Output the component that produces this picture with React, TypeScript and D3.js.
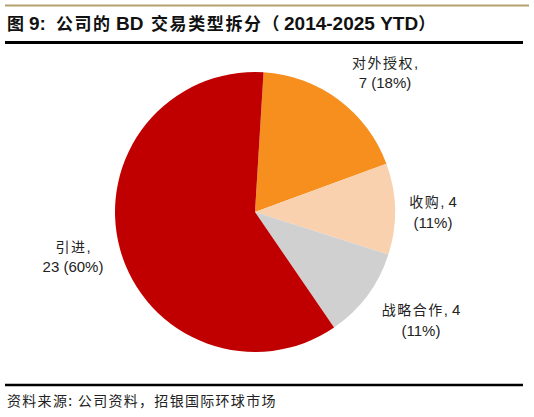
import React from 'react';
import * as d3 from 'd3';

const categories = ['对外授权', '收购', '战略合作', '引进'];
const counts = [7, 4, 4, 23];
const percents = [18, 11, 11, 60];
const colors = ['#F78F1E', '#F9D1AF', '#D0D0D0', '#C00000'];

const W = 534;
const H = 417;
const cx = 255;
const cy = 212;
const radius = 140;

// label positions (centre of text block), kept apart from the data
const labelPos: Record<string, [number, number]> = {
  对外授权: [385, 68],
  收购: [433, 207],
  战略合作: [421, 315],
  引进: [73, 252],
};

const cjk = '"Noto Sans CJK SC", sans-serif';
const latin = 'Arial, "Liberation Sans", sans-serif';

const App: React.FC = () => {
  const data = categories.map((name, i) => ({ name, value: counts[i], pct: percents[i], color: colors[i] }));
  const start = (3.5 * Math.PI) / 180;
  const pie = d3
    .pie<(typeof data)[0]>()
    .sort(null)
    .value(d => d.value)
    .startAngle(start)
    .endAngle(start + 2 * Math.PI);
  const arc = d3.arc<d3.PieArcDatum<(typeof data)[0]>>().innerRadius(0).outerRadius(radius);
  const arcs = pie(data);

  return (
    <svg width={W} height={H} style={{ position: 'absolute', left: 0, top: 0, background: '#fff' }}>
      <line x1={5} x2={529} y1={5.5} y2={5.5} stroke="#B3A26E" strokeWidth={1.8} />
      <text y={30} fontFamily={latin} fontWeight="bold" fontSize={19} fill="#111">
        <tspan x={7} fontFamily={cjk} fontSize={17}>图</tspan>
        <tspan x={29}>9:</tspan>
        <tspan x={56} fontFamily={cjk} fontSize={17} letterSpacing={1.5}>公司的</tspan>
        <tspan x={116}>BD</tspan>
        <tspan x={151} fontFamily={cjk} fontSize={17} letterSpacing={1.6}>交易类型拆分（</tspan>
        <tspan x={284}>2014-2025 YTD</tspan>
        <tspan fontFamily={cjk} fontSize={17}>）</tspan>
      </text>
      <line x1={5} x2={523} y1={42.5} y2={42.5} stroke="#000" strokeWidth={3} />

      <g transform={`translate(${cx},${cy})`}>
        {arcs.map(a => (
          <path key={a.data.name} d={arc(a)!} fill={a.data.color} />
        ))}
      </g>

      {arcs.map(a => {
        const [x, y] = labelPos[a.data.name];
        const twoLineFirst = a.data.name === '对外授权' || a.data.name === '引进';
        return (
          <text key={a.data.name} textAnchor="middle" fontSize={15} fill="#222" fontFamily={latin}>
            {twoLineFirst ? (
              <>
                <tspan x={x} y={y}>
                  <tspan fontFamily={cjk} fontSize={14} letterSpacing={1.5}>{a.data.name}</tspan>,
                </tspan>
                <tspan x={x} y={y + 20}>{`${a.data.value} (${a.data.pct}%)`}</tspan>
              </>
            ) : (
              <>
                <tspan x={x} y={y}>
                  <tspan fontFamily={cjk} fontSize={14} letterSpacing={1.5}>{a.data.name}</tspan>
                  {`, ${a.data.value}`}
                </tspan>
                <tspan x={x} y={y + 21}>{`(${a.data.pct}%)`}</tspan>
              </>
            )}
          </text>
        );
      })}

      <line x1={5} x2={523} y1={385} y2={385} stroke="#000" strokeWidth={2.5} />
      <text x={7} y={406} fontFamily={cjk} fontSize={14} letterSpacing={1.3} fill="#222">
        资料来源: 公司资料，招银国际环球市场
      </text>
    </svg>
  );
};

export default App;
